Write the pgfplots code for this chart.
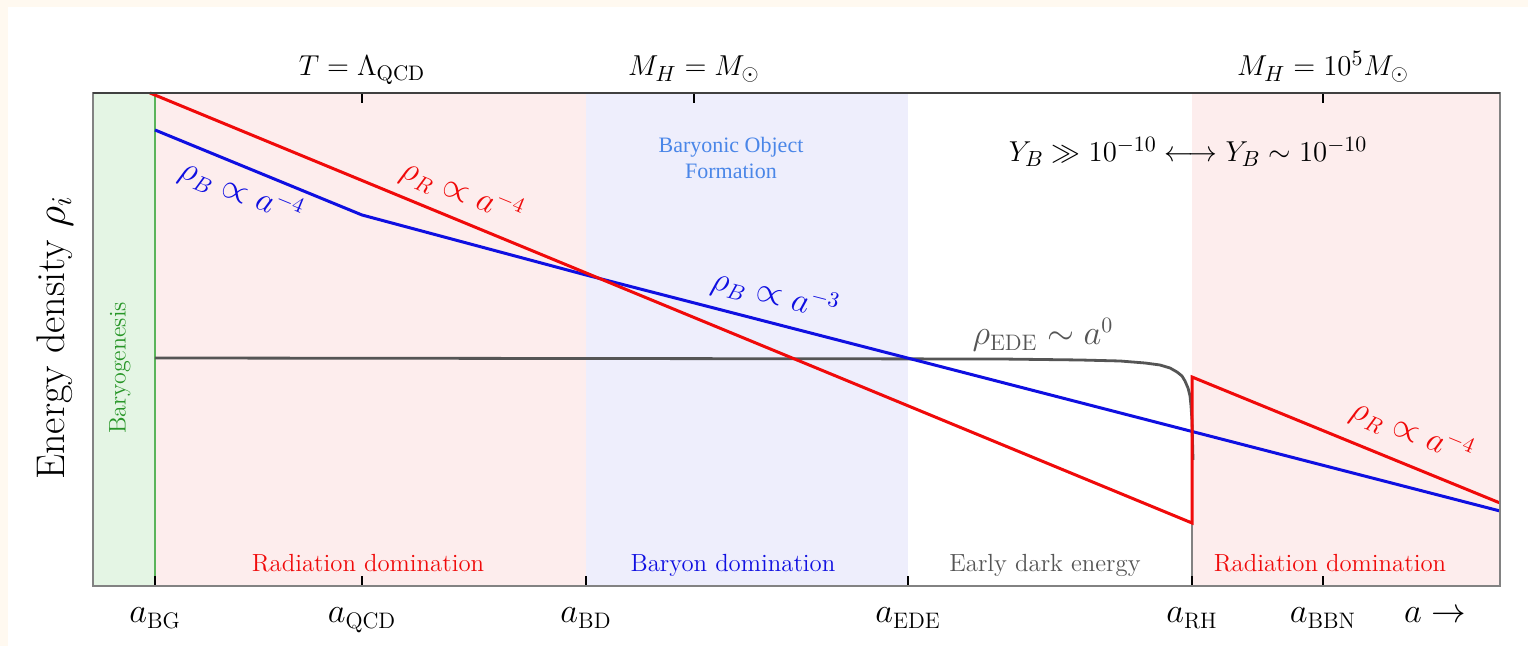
\documentclass[border=0pt]{standalone}
\usepackage{fontspec}
\usepackage{pgfplots}
\pgfplotsset{compat=1.18}
\newfontfamily\bofont{Liberation Serif}
\definecolor{cream}{RGB}{255,249,240}
\definecolor{pinkbg}{RGB}{253,237,237}
\definecolor{greenbg}{RGB}{228,245,228}
\definecolor{bluebg}{RGB}{238,238,252}
\definecolor{lred}{RGB}{240,10,10}
\definecolor{lblue}{RGB}{15,15,225}
\definecolor{ede}{RGB}{85,85,85}
\definecolor{bof}{RGB}{74,134,232}
\definecolor{bggreen}{RGB}{40,150,40}
\definecolor{gline}{RGB}{90,180,90}
\definecolor{framec}{RGB}{130,130,130}
\begin{document}
\begin{tikzpicture}
\useasboundingbox (-46.5pt,-30pt) rectangle (717.5pt,293pt);
\fill[cream] (-46.5pt,-30pt) rectangle (717.5pt,293pt);
\fill[white] (-42.5pt,-30pt) rectangle (717.5pt,289.5pt);
\begin{axis}[
  at={(0,0)}, anchor=south west,
  scale only axis, width=703.5pt, height=246.5pt,
  xmin=93, xmax=1500, ymin=0, ymax=493,
  clip=false,
  axis on top,
  axis line style={framec, line width=0.75pt},
  xtick={155,362,586,908,1192,1323},
  xticklabels={$a_{\rm BG}$,$a_{\rm QCD}$,$a_{\rm BD}$,$a_{\rm EDE}$,$a_{\rm RH}$,$a_{\rm BBN}$},
  xtick pos=left,
  ytick=\empty,
  tick align=inside,
  major tick length=5pt,
  every tick/.style={black, line width=1pt},
  xticklabel style={anchor=base, yshift=-18.5pt, font=\fontsize{16}{19}\selectfont},
  ylabel={Energy density $\rho_i$},
  ylabel style={at={(rel axis cs:-0.027,0.503)}, anchor=center, font=\fontsize{20}{24}\selectfont},
]
% background regions
\addplot[draw=none, fill=greenbg] coordinates {(93,493) (155,493)} \closedcycle;
\addplot[draw=none, fill=pinkbg] coordinates {(155,493) (586,493)} \closedcycle;
\addplot[draw=none, fill=bluebg] coordinates {(586,493) (908,493)} \closedcycle;
\addplot[draw=none, fill=pinkbg] coordinates {(1192,493) (1500,493)} \closedcycle;
\addplot[gline, line width=0.6pt] coordinates {(155,0) (155,493)};
\addplot[framec, line width=0.75pt] coordinates {(1192,0) (1192,63)};
% EDE
\addplot[ede, line width=1.4pt, line join=round] coordinates {
 (155,228) (1000,227) (1080,226) (1120,225) (1145,223) (1160,221) (1170,218)
 (1177,214) (1182,210) (1185,205) (1188,198) (1190,190) (1191,180) (1192,165)
 (1192.5,145) (1193,126)};
% baryons
\addplot[lblue, line width=1.5pt] coordinates {(155,456) (362,371) (586,311) (1500,75)};
% radiation
\addplot[lred, line width=1.5pt] coordinates {(150,493) (1192,63) (1192,209) (1500,83)};
% labels
\node[lblue, rotate=-22.3, font=\fontsize{16}{19}\selectfont] at (axis cs:241,394) {$\rho_B \propto a^{-4}$};
\node[lred, rotate=-22.4, font=\fontsize{16}{19}\selectfont] at (axis cs:462,394) {$\rho_R \propto a^{-4}$};
\node[lblue, rotate=-14.5, font=\fontsize{16}{19}\selectfont] at (axis cs:775,291) {$\rho_B \propto a^{-3}$};
\node[ede, font=\fontsize{16}{19}\selectfont] at (axis cs:1043,251) {$\rho_{\rm EDE} \sim a^{0}$};
\node[lred, rotate=-22.3, font=\fontsize{16}{19}\selectfont] at (axis cs:1412,154) {$\rho_R \propto a^{-4}$};
\node[font=\fontsize{15}{18}\selectfont] at (axis cs:1188,434) {$Y_B \gg 10^{-10} \longleftrightarrow Y_B \sim 10^{-10}$};
\node[bof, align=center, font=\bofont\fontsize{11}{13}\selectfont] at (axis cs:731,428) {Baryonic Object\\Formation};
\node[bggreen, rotate=90, font=\fontsize{12}{14}\selectfont] at (axis cs:120,218) {Baryogenesis};
\node[lred, anchor=base, font=\fontsize{12.4}{15}\selectfont] at (axis cs:368,14) {Radiation domination};
\node[lblue, anchor=base, font=\fontsize{12.4}{15}\selectfont] at (axis cs:733,14) {Baryon domination};
\node[ede, anchor=base, font=\fontsize{12.4}{15}\selectfont] at (axis cs:1045,14) {Early dark energy};
\node[lred, anchor=base, font=\fontsize{12.4}{15}\selectfont] at (axis cs:1330,14) {Radiation domination};
\node[anchor=base, font=\fontsize{16}{19}\selectfont] at (axis cs:1435,-37) {$a \rightarrow$};
\end{axis}
\begin{axis}[
  at={(0,0)}, anchor=south west,
  scale only axis, width=703.5pt, height=246.5pt,
  xmin=93, xmax=1500, ymin=0, ymax=1,
  axis x line*=top, axis y line=none,
  axis line style={black!75, line width=0.75pt},
  xtick={362,694,1323},
  xticklabels={$T=\Lambda_{\rm QCD}$,$M_H=M_\odot$,$M_H=10^5M_\odot$},
  tick align=inside,
  major tick length=5pt,
  every tick/.style={black, line width=1pt},
  xticklabel style={anchor=base, yshift=8.5pt, font=\fontsize{15}{18}\selectfont},
]
\end{axis}
\end{tikzpicture}
\end{document}
